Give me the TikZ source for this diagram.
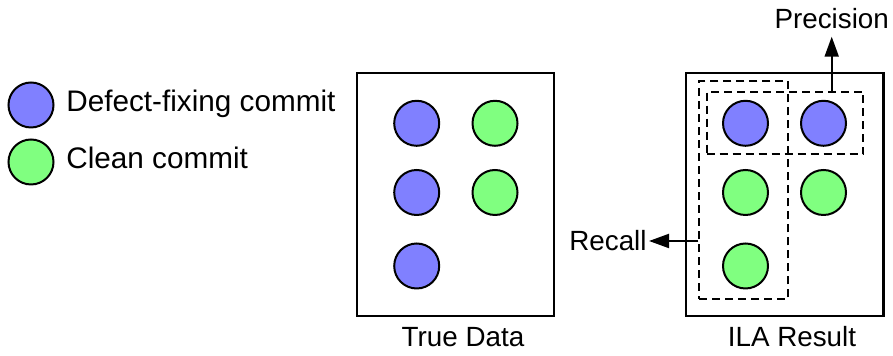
\documentclass[tikz,border=0pt]{standalone}
\usepackage{fontspec}
\setmainfont{Liberation Sans}
\usetikzlibrary{arrows.meta}

\definecolor{fixblue}{HTML}{8080FF}
\definecolor{cleangreen}{HTML}{80FF80}

\tikzset{
  commit/.style={circle, draw, line width=1pt, minimum size=22.5pt, inner sep=0pt},
  fixing/.style={commit, fill=fixblue},
  clean/.style={commit, fill=cleangreen},
  panel/.style={draw, line width=1.1pt, inner sep=0pt,
    minimum width=98.6pt, minimum height=121.4pt},
  selection/.style={draw, line width=1pt, dash pattern=on 4pt off 2.5pt, inner sep=0pt},
  caption/.style={font=\fontsize{13.9}{16}\selectfont},
  legendtext/.style={font=\fontsize{14.85}{17}\selectfont, anchor=base west, inner sep=0pt},
  metric/.style={line width=1pt, -{Triangle[length=10pt,width=7pt]}}
}

\begin{document}
\begin{tikzpicture}[x=0.5pt,y=-0.5pt]
  \useasboundingbox (0,0) rectangle (893,356);

  % legend
  \node[fixing] (keyfix) at (31,105) {};
  \node[clean] (keyclean) at (31,162) {};
  \node[legendtext] (keyfixtxt) at (66,111.7) {Defect-fixing commit};
  \node[legendtext] (keycleantxt) at (66,168.3) {Clean commit};

  % ground truth
  \node[panel] (truth) at (455.7,194.7) {};
  \node[fixing] (t1) at (416.7,123.3) {};
  \node[fixing] (t2) at (416.7,192.5) {};
  \node[fixing] (t3) at (416.7,266) {};
  \node[clean] (t4) at (495,123.3) {};
  \node[clean] (t5) at (495,192.5) {};
  \node[caption, anchor=base] (truthtxt) at (463,347) {True Data};

  % what the algorithm labels
  \node[panel] (ila) at (784.8,194.5) {};
  \node[fixing] (r1) at (745.5,123.3) {};
  \node[fixing] (r2) at (823.5,123.3) {};
  \node[clean] (r3) at (745.5,192.5) {};
  \node[clean] (r4) at (823.5,192.5) {};
  \node[clean] (r5) at (745.5,266) {};
  \node[caption, anchor=base] (ilatxt) at (792,347) {ILA Result};

  % recall and precision groups
  \node[selection, minimum width=44.5pt, minimum height=109pt] (recall) at (743.8,190.4) {};
  \node[selection, minimum width=78.3pt, minimum height=31.4pt] (precision) at (785,123) {};

  \node[caption, anchor=east, inner sep=1pt] (recalltxt) at (649,241) {Recall};
  \node[caption, anchor=south, inner sep=4pt] (precisiontxt) at (831.7,36.7) {Precision};

  \draw[metric] (recall.west |- recalltxt.east) -- (recalltxt.east);
  \draw[metric] (precisiontxt.south |- precision.north) -- (precisiontxt.south);
\end{tikzpicture}
\end{document}
